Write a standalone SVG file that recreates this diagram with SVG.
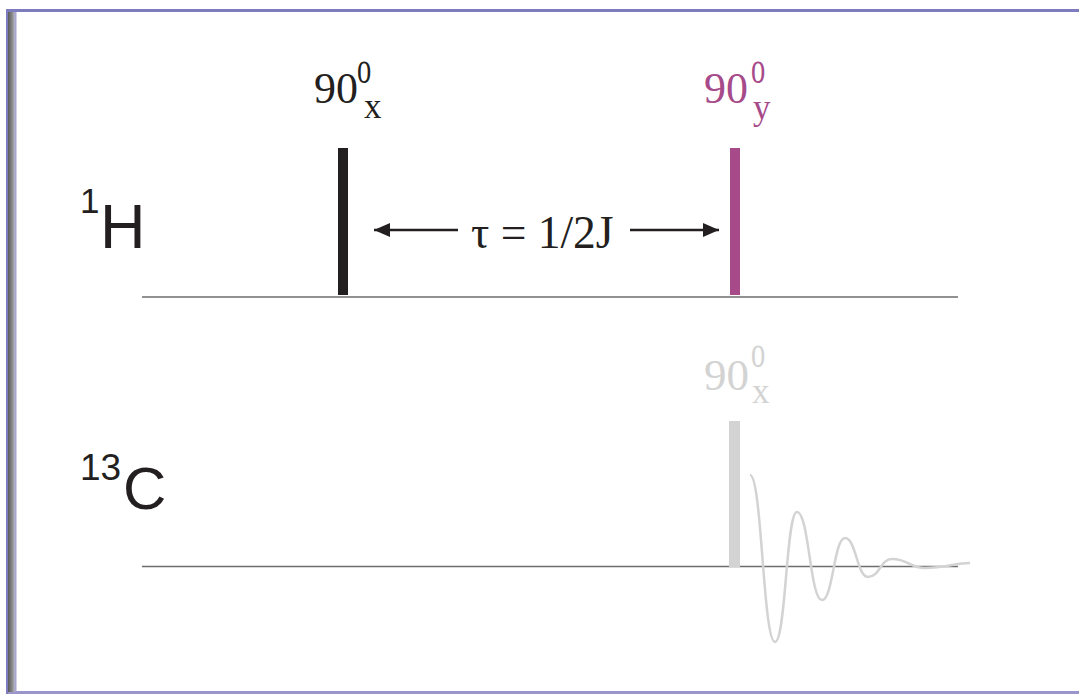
<svg xmlns="http://www.w3.org/2000/svg" width="1079" height="696" viewBox="0 0 1079 696">
<defs>
<linearGradient id="lb" x1="0" y1="0" x2="1" y2="0">
<stop offset="0" stop-color="#5a5a5a"/>
<stop offset="0.6" stop-color="#8a8a8a"/>
<stop offset="1" stop-color="#b8b8c8"/>
</linearGradient>
<marker id="ah" viewBox="0 0 16 14" refX="16" refY="7" markerWidth="16" markerHeight="14" markerUnits="userSpaceOnUse" orient="auto">
<path d="M0,0 L16,7 L0,14 Z" fill="#231f20"/>
</marker>
<style>
.serif{font-family:"Liberation Serif","Times New Roman",serif}
.sans{font-family:"Liberation Sans",Arial,sans-serif;fill:#231f20}
.base{stroke:#6d6d6d;stroke-width:1.5}
.arr{stroke:#231f20;stroke-width:2.5;marker-end:url(#ah)}
</style>
</defs>
<rect width="1079" height="696" fill="#ffffff"/>
<g id="frame">
<rect x="6" y="9" width="1073" height="3" fill="#7f7bbf"/>
<rect x="6" y="691" width="1073" height="3" fill="#9a96cc"/>
<rect x="6" y="9" width="2" height="685" fill="#7f7bbf"/>
<rect x="8" y="12" width="7" height="680" fill="url(#lb)"/>
<rect x="15" y="12" width="1.5" height="680" fill="#a8a4d4"/>
</g>
<g id="H-channel">
<line class="base" x1="142" y1="297" x2="958" y2="297"/>
<text class="sans" x="80" y="213" font-size="35">1</text>
<text class="sans" x="100" y="248" font-size="63">H</text>
</g>
<g id="C-channel">
<line class="base" x1="142" y1="566.5" x2="958" y2="566.5"/>
<text class="sans" x="80" y="480" font-size="37">13</text>
<text class="sans" x="123" y="509" font-size="60">C</text>
</g>
<g id="pulse-H-x">
<rect x="338" y="148" width="10" height="147" fill="#231f20"/>
<text class="serif" x="314" y="103" font-size="44" fill="#231f20">90</text>
<text class="serif" font-size="46" fill="#231f20" transform="translate(357,83) scale(0.62,1)">o</text>
<text class="serif" x="364" y="118" font-size="35" fill="#231f20">x</text>
</g>
<g id="pulse-H-y">
<rect x="730" y="148" width="10" height="147" fill="#a64a8a"/>
<text class="serif" x="704" y="103" font-size="44" fill="#a64a8a">90</text>
<text class="serif" font-size="46" fill="#a64a8a" transform="translate(751,83) scale(0.62,1)">o</text>
<text class="serif" x="753" y="119" font-size="35" fill="#a64a8a">y</text>
</g>
<g id="pulse-C-x">
<rect x="729" y="421" width="11" height="146" fill="#d3d3d3"/>
<text class="serif" x="704" y="390" font-size="45" fill="#d3d3d3">90</text>
<text class="serif" font-size="46" fill="#d3d3d3" transform="translate(751,367) scale(0.62,1)">o</text>
<text class="serif" x="752" y="403" font-size="35" fill="#d3d3d3">x</text>
</g>
<g id="fid">
<path d="M750,475 C762,475 763,642 775,642 C786,642 786,512 797,512 C809,512 810,600 822,600 C833,600 834,538 845,538 C856,538 857,577 868,577 C880,577 880,559 892,559 C908,559 910,568 925,568 C945,568 955,563 970,563" fill="none" stroke="#d3d3d3" stroke-width="2.5"/>
</g>
<g id="connectors">
<line class="arr" x1="458" y1="230" x2="374" y2="230"/>
<line class="arr" x1="630" y1="230" x2="719" y2="230"/>
<text class="serif" x="471" y="248" font-size="45.5" fill="#231f20">τ = 1/2J</text>
</g>
</svg>
